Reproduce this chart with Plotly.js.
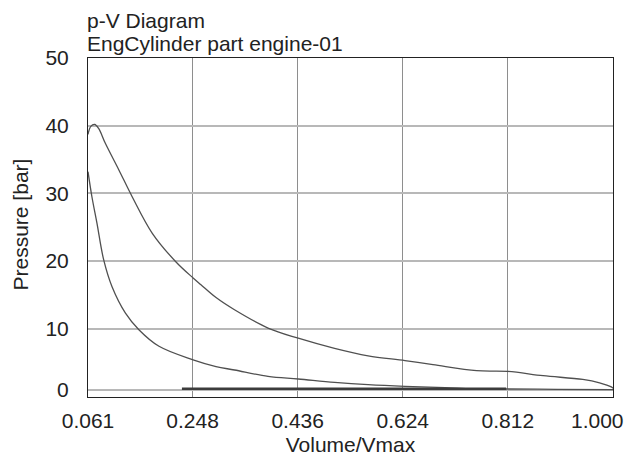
<!DOCTYPE html>
<html>
<head>
<meta charset="utf-8">
<script src="https://cdn.plot.ly/plotly-3.0.1.min.js"></script>
<style>html,body{margin:0;padding:0;background:#fff;}#chart{width:629px;height:461px;}</style>
</head>
<body>
<div id="chart"></div>
<script>
// Compression stroke (BDC -> TDC), Volume/Vmax vs pressure [bar]
const compV = [1.000, 0.900, 0.800, 0.748, 0.700, 0.628, 0.562, 0.502, 0.437, 0.383, 0.323, 0.290, 0.249, 0.188, 0.152, 0.128, 0.104, 0.089, 0.077, 0.068, 0.061];
const compP = [1.0, 1.05, 1.1, 1.14, 1.3, 1.48, 1.73, 2.07, 2.57, 2.95, 3.9, 4.4, 5.4, 7.4, 9.85, 12.3, 16.2, 20.2, 25.6, 29.5, 33.2];
// Combustion + expansion stroke (TDC -> BDC)
const expV = [0.061, 0.066, 0.073, 0.080, 0.092, 0.116, 0.140, 0.176, 0.218, 0.249, 0.263, 0.290, 0.323, 0.383, 0.437, 0.502, 0.562, 0.628, 0.678, 0.756, 0.812, 0.875, 0.946, 0.976, 0.997, 1.000];
const expP = [38.7, 39.9, 40.2, 39.6, 37.4, 33.5, 29.5, 24.1, 19.9, 17.5, 16.5, 14.6, 12.8, 10.1, 8.6, 7.1, 6.0, 5.3, 4.7, 3.8, 3.7, 3.06, 2.5, 2.0, 1.4, 1.2];
// Gas exchange segment
const gasV = [0.229, 0.809];
const gasP = [1.14, 1.14];

const xTickVals = [0.061, 0.248, 0.436, 0.624, 0.812, 1.000];
const xTickText = ['0.061', '0.248', '0.436', '0.624', '0.812', '1.000'];
const yTickVals = [1, 10, 20, 30, 40, 50];
const yTickText = ['0', '10', '20', '30', '40', '50'];

const titleLines = ['p-V Diagram', 'EngCylinder part engine-01'];
const yTitle = 'Pressure [bar]';
const xTitle = 'Volume/Vmax';

const font = {family: 'Liberation Sans, Arial, sans-serif', size: 21, color: '#222'};
const curveLine = {color: '#505050', width: 1.3, shape: 'spline', smoothing: 1.0};

const traces = [
  {x: compV, y: compP, mode: 'lines', line: curveLine, name: 'compression'},
  {x: expV, y: expP, mode: 'lines', line: curveLine, name: 'expansion'},
  {x: gasV, y: gasP, mode: 'lines', line: {color: '#3c3c3c', width: 2.5}, name: 'gas exchange'}
];

const lastIdx = xTickVals.length - 1;
// last tick label is drawn right-aligned so it stays inside the page
const axisTickText = xTickText.map((t, i) => (i === lastIdx ? '' : t));

const layout = {
  width: 629, height: 461,
  margin: {l: 88, r: 16, t: 58, b: 64},
  paper_bgcolor: '#fff', plot_bgcolor: '#fff',
  showlegend: false,
  font: font,
  annotations: [
    {text: titleLines[0], xref: 'paper', yref: 'paper', x: 0, y: 1, xanchor: 'left', yanchor: 'bottom', yshift: 24, xshift: -3, showarrow: false, font: font},
    {text: titleLines[1], xref: 'paper', yref: 'paper', x: 0, y: 1, xanchor: 'left', yanchor: 'bottom', yshift: 1, xshift: -3, showarrow: false, font: font},
    {text: yTitle, xref: 'paper', yref: 'paper', x: 0, y: 0.5, xanchor: 'center', yanchor: 'middle', xshift: -68, yshift: 3, textangle: -90, showarrow: false, font: font},
    {text: xTickText[lastIdx], xref: 'x', yref: 'paper', x: xTickVals[lastIdx], y: 0, xanchor: 'right', yanchor: 'top', xshift: 13, yshift: -10, showarrow: false, font: font}
  ],
  xaxis: {
    range: [0.061, 1.0], tickvals: xTickVals, ticktext: axisTickText,
    showgrid: true, gridcolor: '#8e8e8e', gridwidth: 1,
    showline: true, linecolor: '#222', linewidth: 1, mirror: true,
    ticks: 'outside', ticklen: 5, tickcolor: 'rgba(0,0,0,0)',
    zeroline: false, tickfont: font,
    title: {text: xTitle, font: font, standoff: 6}
  },
  yaxis: {
    range: [-0.09, 50], tickvals: yTickVals, ticktext: yTickText,
    showgrid: true, gridcolor: '#b8b8b8', gridwidth: 1.8,
    showline: true, linecolor: '#222', linewidth: 1, mirror: true,
    ticks: 'outside', ticklen: 14, tickcolor: 'rgba(0,0,0,0)',
    zeroline: false, tickfont: font
  }
};

Plotly.newPlot('chart', traces, layout, {displayModeBar: false, staticPlot: true});
</script>
</body>
</html>
